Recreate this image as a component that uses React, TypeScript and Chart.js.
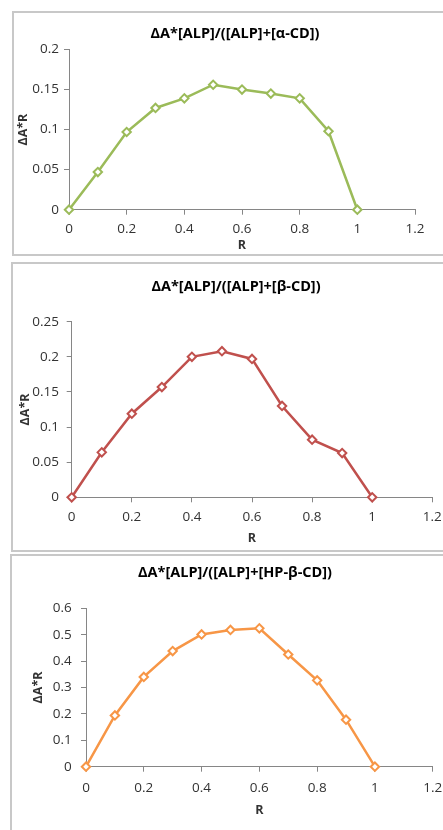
import React, { useEffect, useRef } from "react";
import { Chart, registerables } from "chart.js";

Chart.register(...registerables);

// ---------- data ----------
const rValues = [0, 0.1, 0.2, 0.3, 0.4, 0.5, 0.6, 0.7, 0.8, 0.9, 1];
const alphaValues = [0, 0.047, 0.097, 0.127, 0.139, 0.156, 0.15, 0.145, 0.139, 0.098, 0];
const betaValues = [0, 0.064, 0.119, 0.157, 0.2, 0.208, 0.197, 0.13, 0.082, 0.063, 0];
const hpBetaValues = [0, 0.194, 0.34, 0.438, 0.501, 0.518, 0.524, 0.425, 0.327, 0.178, 0];

const xTickValues = [0, 0.2, 0.4, 0.6, 0.8, 1, 1.2];
const alphaYTicks = [0, 0.05, 0.1, 0.15, 0.2];
const betaYTicks = [0, 0.05, 0.1, 0.15, 0.2, 0.25];
const hpBetaYTicks = [0, 0.1, 0.2, 0.3, 0.4, 0.5, 0.6];

const chartTitles = [
  "ΔA*[ALP]/([ALP]+[α-CD])",
  "ΔA*[ALP]/([ALP]+[β-CD])",
  "ΔA*[ALP]/([ALP]+[HP-β-CD])",
];
const xAxisTitle = "R";
const yAxisTitle = "ΔA*R";

// ---------- styling ----------
const FONT = "'Open Sans', 'Liberation Sans', sans-serif";
const TITLE_SIZE = 14.5;
const AXIS_TITLE_SIZE = 12.5;
const TICK_SIZE = 13.5;
const TICK_LEN = 5;
const AXIS_COLOR = "#868686";
const TEXT_COLOR = "#333333";

type Layout = {
  top: number;
  height: number;
  plotLeft: number;
  plotRight: number;
  plotTop: number;
  plotBottom: number;
  titleCX: number;
  titleCY: number;
  xTitleCY: number;
  yTitleCX: number;
  xTickCY: number;
  yTickRight: number;
};

type Panel = {
  layout: Layout;
  values: number[];
  yTicks: number[];
  color: string;
  title: string;
  border: { left: number; top: number; height: number };
};

const panels: Panel[] = [
  {
    layout: {
      top: 12, height: 243,
      plotLeft: 69, plotRight: 415, plotTop: 49.5, plotBottom: 209.7,
      titleCX: 235, titleCY: 33.7, xTitleCY: 245.7, yTitleCX: 23.3,
      xTickCY: 228.7, yTickRight: 59,
    },
    values: alphaValues, yTicks: alphaYTicks, color: "#9BBB59", title: chartTitles[0],
    border: { left: 12, top: 11, height: 245 },
  },
  {
    layout: {
      top: 263, height: 288,
      plotLeft: 71.7, plotRight: 432.3, plotTop: 321.7, plotBottom: 497.3,
      titleCX: 235.8, titleCY: 286.7, xTitleCY: 538, yTitleCX: 25,
      xTickCY: 516.7, yTickRight: 59,
    },
    values: betaValues, yTicks: betaYTicks, color: "#C0504D", title: chartTitles[1],
    border: { left: 11, top: 262, height: 290 },
  },
  {
    layout: {
      top: 555, height: 275,
      plotLeft: 86, plotRight: 432.7, plotTop: 608.3, plotBottom: 766.7,
      titleCX: 235, titleCY: 573.3, xTitleCY: 810, yTitleCX: 38.3,
      xTickCY: 788.3, yTickRight: 71.7,
    },
    values: hpBetaValues, yTicks: hpBetaYTicks, color: "#F79646", title: chartTitles[2],
    border: { left: 10, top: 554, height: 300 },
  },
];

const fmt = (v: number) => String(Number(Number(v).toFixed(3)));

function buildConfig(p: Panel, cw: number): any {
  const L = p.layout;
  const ch = L.height;
  const pt = L.plotTop - L.top;
  const pb = L.plotBottom - L.top;
  const tLH = TITLE_SIZE * 1.2;
  const titlePadTop = L.titleCY - L.top - tLH / 2;
  const titlePadBottom = pt - titlePadTop - tLH;
  const xAxisH = ch - pb;
  const aLH = AXIS_TITLE_SIZE * 1.2;
  const xTitlePadBottom = ch - (L.xTitleCY - L.top) - aLH / 2;
  const kLH = TICK_SIZE * 1.2;
  const xTickPad = L.xTickCY - L.plotBottom - TICK_LEN - kLH / 2;
  const yTickPad = L.plotLeft - L.yTickRight - TICK_LEN;
  const yTitlePadTop = L.yTitleCX - aLH / 2;
  const rightW = cw - L.plotRight;
  const yMax = p.yTicks[p.yTicks.length - 1];

  return {
    type: "line",
    data: {
      labels: rValues,
      datasets: [
        {
          data: rValues.map((r, i) => ({ x: r, y: p.values[i] })),
          borderColor: p.color,
          backgroundColor: "#ffffff",
          borderWidth: 2.5,
          tension: 0,
          pointStyle: "rectRot",
          pointRadius: 4.2,
          pointBorderWidth: 2,
          pointBackgroundColor: "#ffffff",
          pointBorderColor: p.color,
          clip: false,
          yAxisID: "y",
          xAxisID: "x",
        },
      ],
    },
    options: {
      responsive: false,
      animation: false,
      devicePixelRatio: 1,
      events: [],
      layout: { padding: 0 },
      plugins: {
        legend: { display: false },
        tooltip: { enabled: false },
        title: {
          display: true,
          text: p.title,
          color: "#000000",
          font: { family: FONT, size: TITLE_SIZE, weight: "bold" },
          padding: { top: titlePadTop, bottom: titlePadBottom },
        },
      },
      scales: {
        x: {
          type: "linear",
          position: "bottom",
          min: 0,
          max: 1.2,
          afterBuildTicks: (s: any) => {
            s.ticks = xTickValues.map((v) => ({ value: v }));
          },
          afterFit: (s: any) => {
            s.height = xAxisH;
          },
          ticks: {
            callback: (v: any) => fmt(v),
            color: TEXT_COLOR,
            font: { family: FONT, size: TICK_SIZE },
            padding: xTickPad,
            maxRotation: 0,
            autoSkip: false,
          },
          grid: {
            display: true,
            drawOnChartArea: false,
            drawTicks: true,
            tickLength: TICK_LEN,
            color: AXIS_COLOR,
          },
          border: { display: true, color: AXIS_COLOR, width: 1 },
          title: {
            display: true,
            text: xAxisTitle,
            color: TEXT_COLOR,
            font: { family: FONT, size: AXIS_TITLE_SIZE, weight: "bold" },
            padding: { top: 0, bottom: xTitlePadBottom },
          },
        },
        y: {
          type: "linear",
          position: "left",
          min: 0,
          max: yMax,
          afterBuildTicks: (s: any) => {
            s.ticks = p.yTicks.map((v) => ({ value: v }));
          },
          afterFit: (s: any) => {
            s.width = L.plotLeft;
          },
          ticks: {
            callback: (v: any) => fmt(v),
            color: TEXT_COLOR,
            font: { family: FONT, size: TICK_SIZE },
            padding: yTickPad,
            autoSkip: false,
          },
          grid: {
            display: true,
            drawOnChartArea: false,
            drawTicks: true,
            tickLength: TICK_LEN,
            color: AXIS_COLOR,
          },
          border: { display: true, color: AXIS_COLOR, width: 1 },
          title: {
            display: true,
            text: yAxisTitle,
            color: TEXT_COLOR,
            font: { family: FONT, size: AXIS_TITLE_SIZE, weight: "bold" },
            padding: { top: yTitlePadTop, bottom: 0 },
          },
        },
        ySpacer: {
          type: "linear",
          position: "right",
          display: true,
          afterFit: (s: any) => {
            s.width = rightW;
          },
          ticks: { display: false },
          grid: { display: false, drawTicks: false },
          border: { display: false },
          title: { display: false },
        },
      },
    },
  };
}

function PanelChart({ panel }: { panel: Panel }) {
  const ref = useRef<HTMLCanvasElement | null>(null);
  const cw = Math.round(panel.layout.titleCX * 2);
  useEffect(() => {
    if (!ref.current) return;
    const chart = new Chart(ref.current, buildConfig(panel, cw));
    return () => chart.destroy();
  }, [panel, cw]);
  return (
    <>
      <div
        style={{
          position: "absolute",
          left: panel.border.left,
          top: panel.border.top,
          width: 480,
          height: panel.border.height,
          border: "2px solid #c8c8c8",
          boxSizing: "border-box",
          background: "#ffffff",
        }}
      />
      <canvas
        ref={ref}
        width={cw}
        height={panel.layout.height}
        style={{
          position: "absolute",
          left: 0,
          top: panel.layout.top,
          width: cw,
          height: panel.layout.height,
        }}
      />
    </>
  );
}

export default function App() {
  return (
    <div
      style={{
        position: "absolute",
        left: 0,
        top: 0,
        width: 443,
        height: 830,
        overflow: "hidden",
        background: "#ffffff",
      }}
    >
      {panels.map((p, i) => (
        <PanelChart key={i} panel={p} />
      ))}
    </div>
  );
}
